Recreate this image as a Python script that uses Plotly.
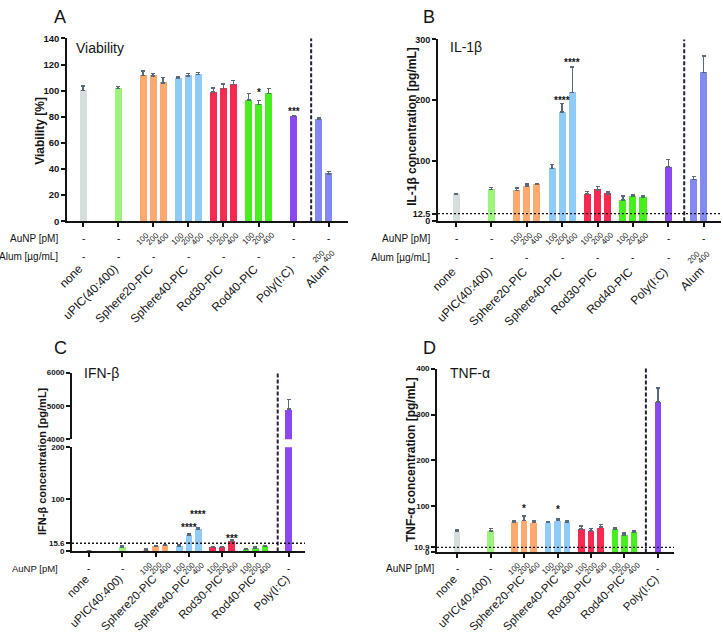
import plotly.graph_objects as go

W, H = 723, 636
FONT = "Liberation Sans, Arial, sans-serif"

GROUPS = ["none", "uPIC(40:400)", "Sphere20-PIC", "Sphere40-PIC",
          "Rod30-PIC", "Rod40-PIC", "Poly(I:C)", "Alum"]
DOSES = ["100", "200", "400"]
ALUM_DOSES = ["200", "400"]
COLORS = ["#d6dddd", "#9cf47c", "#ffa96e", "#8fcbf8",
          "#f62a50", "#48ef1f", "#8b47f0", "#8289f1"]

# ---------------- data ----------------
# Panel A: viability [%]
via_vals = [[100.0], [101.5], [111.5, 111.3, 106.0], [109.5, 111.3, 112.3],
            [99.0, 101.5, 104.8], [92.8, 89.3, 97.8], [80.3], [77.8, 36.3]]
via_err = [[3.5], [1.5], [3.5, 2.0, 4.0], [1.3, 1.7, 1.5],
           [3.0, 3.5, 3.0], [5.0, 3.2, 4.0], [0.5], [1.2, 1.7]]
via_sig = [(5, 1, "*"), (6, 0, "***")]

# Panel B: IL-1beta [pg/mL]
il_vals = [[44.7], [52.2], [50.6, 58.2, 60.9], [86.7, 179.9, 212.7],
           [44.7, 51.7, 45.2], [35.0, 41.5, 39.3], [89.4], [69.0, 245.0]]
il_err = [[1.1], [3.8], [4.4, 3.2, 0.5], [7.0, 14.5, 42.0],
          [4.3, 5.3, 3.3], [6.5, 2.1, 2.7], [12.4], [4.8, 28.0]]
il_sig = [(3, 1, "****"), (3, 2, "****")]
il_lod = 12.5

# Panel C: IFN-beta [pg/mL]
ifn_vals = [[0.5], [8.1], [3.1, 10.0, 11.2], [10.0, 31.2, 41.9],
            [8.1, 8.1, 19.4], [3.8, 6.9, 9.4], [4905.0]]
ifn_err = [[0.3], [1.9], [2.5, 1.2, 1.9], [1.9, 2.5, 3.1],
           [1.3, 1.3, 2.5], [1.2, 1.2, 1.2], [285.0]]
ifn_sig = [(3, 1, "****"), (3, 2, "****"), (4, 2, "***")]
ifn_lod = 15.6

# Panel D: TNF-alpha [pg/mL]
tnf_vals = [[45.0], [47.0], [66.0, 69.4, 65.0], [65.0, 70.0, 66.0],
            [51.0, 47.0, 55.0], [51.0, 38.0, 44.4], [327.7]]
tnf_err = [[4.0], [5.0], [2.0, 9.6, 3.7], [1.5, 3.7, 2.0],
           [6.0, 5.0, 6.0], [3.0, 4.0, 3.6], [30.1]]
tnf_sig = [(2, 1, "*"), (3, 1, "*")]
tnf_lod = 10.9

# layout-only: pixel gap between error-bar top and star centre
SIG_GAP_A = [10, 7]
SIG_GAP_B = [5, 7]
SIG_GAP_C = [9, 16, 4]
SIG_GAP_D = [10, 12]

OFF3 = [-0.285, 0.0, 0.285]
OFF2 = [-0.285, 0.0]
INK = "#141414"


def offsets(n):
    return [0.0] if n == 1 else (OFF3 if n == 3 else OFF2)


def flat(vals, errs):
    xs, ys, es, cs = [], [], [], []
    for g, (vv, ee) in enumerate(zip(vals, errs)):
        for o, v, e in zip(offsets(len(vv)), vv, ee):
            xs.append(g + o); ys.append(v); es.append(e); cs.append(COLORS[g])
    return xs, ys, es, cs


def px_x(p):
    return p / W


def px_y(p):
    return 1 - p / H


fig = go.Figure()
annots = []
shapes = []

ERR = dict(type="data", symmetric=False, color="#5b6a78", thickness=1.5, width=2)


def add_bars(vals, errs, xa, ya, keep=None, zero_err=None):
    xs, ys, es, cs = flat(vals, errs)
    idx = list(range(len(xs))) if keep is None else keep
    ee = [0 if (zero_err and i in zero_err) else es[i] for i in idx]
    fig.add_trace(go.Bar(
        x=[xs[i] for i in idx], y=[ys[i] for i in idx], width=0.2,
        marker=dict(color=[cs[i] for i in idx], line=dict(width=0)),
        error_y=dict(ERR, array=ee, arrayminus=[0] * len(idx)),
        xaxis=xa, yaxis=ya, showlegend=False))


def add_sig(vals, errs, sig, gaps, xa, ya):
    for (g, b, t), gap in zip(sig, gaps):
        x = g + offsets(len(vals[g]))[b]
        annots.append(dict(x=x, y=vals[g][b] + errs[g][b], xref=xa, yref=ya,
                           text=t, showarrow=False, yanchor="bottom",
                           font=dict(family=FONT, size=10, color=INK, weight="bold"),
                           yshift=gap - 10))


def add_rows(vals, xa, rows, label_right, cat_y, alum=False, row_fs=10, cat_fs=12):
    for r, (lab, ypx) in enumerate(rows):
        annots.append(dict(x=px_x(label_right), y=px_y(ypx), xref="paper", yref="paper",
                           text=lab, showarrow=False, xanchor="right", yanchor="middle",
                           font=dict(family=FONT, size=row_fs, color=INK)))
        for g, vv in enumerate(vals):
            n = len(vv)
            if r == 0 and n == 3:
                items = list(zip(OFF3, DOSES))
            elif r == 1 and alum and g == len(vals) - 1:
                items = list(zip(OFF2, ALUM_DOSES))
            else:
                items = None
            if items:
                for o, d in items:
                    annots.append(dict(x=g + o, y=px_y(ypx), xref=xa, yref="paper",
                                       text=d, textangle=-45, showarrow=False,
                                       xanchor="center", yanchor="middle",
                                       font=dict(family=FONT, size=8, color=INK)))
            else:
                annots.append(dict(x=g, y=px_y(ypx), xref=xa, yref="paper",
                                   text="-", showarrow=False, xanchor="center",
                                   yanchor="middle",
                                   font=dict(family=FONT, size=10, color=INK)))
    for g in range(len(vals)):
        annots.append(dict(x=g + 0.12, y=px_y(cat_y), xref=xa, yref="paper",
                           text=GROUPS[g], textangle=-45, showarrow=False,
                           xanchor="right", yanchor="top", borderpad=0,
                           font=dict(family=FONT, size=cat_fs, color=INK)))


AX = dict(showgrid=False, zeroline=False, showline=True, linecolor=INK,
          linewidth=1.7, ticks="outside", ticklen=4, tickwidth=1.5, tickcolor=INK)


def xaxis(dom, rng, n, anchor):
    return dict(AX, domain=dom, range=rng, anchor=anchor, tickvals=list(range(n)),
                showticklabels=False)


def yaxis(dom, rng, tv, tt, anchor, fs):
    return dict(AX, domain=dom, range=rng, anchor=anchor, tickvals=tv, ticktext=tt,
                tickfont=dict(family=FONT, size=fs, color=INK, weight="bold"))


def ytitle(text, x, y, fs):
    annots.append(dict(x=px_x(x), y=px_y(y), xref="paper", yref="paper", text=text,
                       textangle=-90, showarrow=False, xanchor="center", yanchor="middle",
                       font=dict(family=FONT, size=fs, color=INK, weight="bold")))


DASH = dict(color="#22223a", width=2, dash="4px,2px")
DOT = dict(color=INK, width=1.4, dash="2px,2px")

# ---------------- Panel A ----------------
add_bars(via_vals, via_err, "x", "y")
add_sig(via_vals, via_err, via_sig, SIG_GAP_A, "x", "y")
add_rows(via_vals, "x", [("AuNP [pM]", 237), ("Alum [µg/mL]", 255)], 60, 259, alum=True)
ytitle("Viability [%]", 40, 127, 12)
A_dom_x = [px_x(67), px_x(348)]
A_dom_y = [px_y(219), px_y(33)]
shapes.append(dict(type="line", xref="x", yref="paper", x0=6.5, x1=6.5,
                   y0=A_dom_y[0], y1=A_dom_y[1], line=DASH))

# ---------------- Panel B ----------------
add_bars(il_vals, il_err, "x2", "y2")
add_sig(il_vals, il_err, il_sig, SIG_GAP_B, "x2", "y2")
add_rows(il_vals, "x2", [("AuNP [pM]", 237), ("Alum [µg/mL]", 256)], 432, 262, alum=True)
ytitle("IL-1β concentration [pg/mL]", 412, 123, 12)
B_dom_x = [px_x(438), px_x(721)]
B_dom_y = [px_y(219), px_y(34)]
shapes.append(dict(type="line", xref="x2", yref="paper", x0=6.45, x1=6.45,
                   y0=B_dom_y[0], y1=B_dom_y[1], line=DASH))
shapes.append(dict(type="line", xref="x2 domain", yref="y2", x0=0, x1=1,
                   y0=il_lod, y1=il_lod, line=DOT))

# ---------------- Panel C ----------------
nC = sum(len(v) for v in ifn_vals)
add_bars(ifn_vals, ifn_err, "x3", "y3", zero_err={nC - 1})
add_bars(ifn_vals, ifn_err, "x3", "y5", keep=[nC - 1])
add_sig(ifn_vals, ifn_err, ifn_sig, SIG_GAP_C, "x3", "y3")
add_rows(ifn_vals, "x3", [("AuNP [pM]", 572)], 60, 575, row_fs=9.5, cat_fs=11.5)
ytitle("IFN-β concentration [pg/mL]", 42, 463, 11)
C_dom_x = [px_x(72), px_x(305)]
C_dom_lo = [px_y(555), px_y(449)]
C_dom_hi = [px_y(441), px_y(373)]
shapes.append(dict(type="line", xref="x3", yref="paper", x0=5.67, x1=5.67,
                   y0=C_dom_lo[0], y1=C_dom_hi[1], line=DASH))
shapes.append(dict(type="line", xref="x3 domain", yref="y3", x0=0, x1=1,
                   y0=ifn_lod, y1=ifn_lod, line=DOT))

# ---------------- Panel D ----------------
add_bars(tnf_vals, tnf_err, "x4", "y4")
add_sig(tnf_vals, tnf_err, tnf_sig, SIG_GAP_D, "x4", "y4")
add_rows(tnf_vals, "x4", [("AuNP [pM]", 572)], 436, 575, cat_fs=11.5)
ytitle("TNF-α concentration [pg/mL]", 411, 462, 12)
D_dom_x = [px_x(437), px_x(674)]
D_dom_y = [px_y(556), px_y(369)]
shapes.append(dict(type="line", xref="x4", yref="paper", x0=5.64, x1=5.64,
                   y0=D_dom_y[0], y1=D_dom_y[1], line=DASH))
shapes.append(dict(type="line", xref="x4 domain", yref="y4", x0=0, x1=1,
                   y0=tnf_lod, y1=tnf_lod, line=DOT))

# panel letters and titles
for t, x, y in [("A", 60, 11), ("B", 429, 11), ("C", 60, 348), ("D", 429, 348)]:
    annots.append(dict(x=px_x(x), y=px_y(y), xref="paper", yref="paper", text=t,
                       showarrow=False, xanchor="center", yanchor="middle",
                       font=dict(family=FONT, size=18, color=INK)))
for t, x, y in [("Viability", 74, 43), ("IL-1β", 448, 42),
                ("IFN-β", 82, 373), ("TNF-α", 448, 373)]:
    annots.append(dict(x=px_x(x), y=px_y(y), xref="paper", yref="paper", text=t,
                       showarrow=False, xanchor="left", yanchor="middle",
                       font=dict(family=FONT, size=14, color=INK)))

fig.update_layout(
    width=W, height=H, margin=dict(l=0, r=0, t=0, b=0),
    paper_bgcolor="white", plot_bgcolor="rgba(0,0,0,0)",
    bargap=0, showlegend=False,
    xaxis=xaxis(A_dom_x, [-0.456, 7.55], 8, "y"),
    yaxis=yaxis(A_dom_y, [0, 140], list(range(0, 141, 20)),
                [str(v) for v in range(0, 141, 20)], "x", 9.5),
    xaxis2=xaxis(B_dom_x, [-0.51, 7.49], 8, "y2"),
    yaxis2=yaxis(B_dom_y, [0, 300], [0, il_lod, 100, 200, 300],
                 ["0", "12.5", "100", "200", "300"], "x2", 9),
    xaxis3=xaxis(C_dom_x, [-0.51, 6.49], 7, "y3"),
    yaxis3=yaxis(C_dom_lo, [0, 200], [0, ifn_lod, 100, 200],
                 ["0", "15.6", "100", "200"], "x3", 8),
    yaxis5=yaxis(C_dom_hi, [4000, 6000], [4000, 5000, 6000],
                 ["4000", "5000", "6000"], "x3", 8),
    xaxis4=xaxis(D_dom_x, [-0.6, 6.48], 7, "y4"),
    yaxis4=yaxis(D_dom_y, [0, 400], [0, tnf_lod, 100, 200, 300, 400],
                 ["0", "10.9", "100", "200", "300", "400"], "x4", 8),
    shapes=shapes,
    annotations=annots,
)

fig.write_html("out.html")
